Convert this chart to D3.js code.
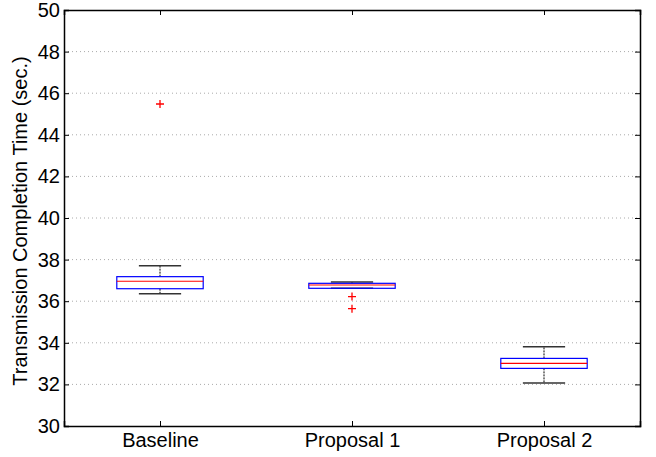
<!DOCTYPE html>
<html><head><meta charset="utf-8">
<script src="https://cdn.jsdelivr.net/npm/d3@7"></script>
<style>body{margin:0;background:#fff}svg{display:block}</style>
</head><body>
<script>
const categories = ["Baseline", "Proposal 1", "Proposal 2"];
const medians = [36.96, 36.78, 33.01];
const q1 = [36.60, 36.62, 32.77];
const q3 = [37.18, 36.86, 33.25];
const whiskerLow = [36.36, 36.62, 32.07];
const whiskerHigh = [37.71, 36.92, 33.81];
const outliers = [[45.48], [36.22, 35.64], []];
const yTicks = [30, 32, 34, 36, 38, 40, 42, 44, 46, 48, 50];

const W = 656, H = 457;
const m = {l: 64, r: 16, t: 10, b: 31};
const svg = d3.select("body").append("svg").attr("width", W).attr("height", H);
const x = d3.scaleLinear().domain([0.5, 3.5]).range([m.l, W - m.r]);
const y = d3.scaleLinear().domain([30, 50]).range([H - m.b, m.t]);
const font = "Liberation Sans, Arial, Helvetica, sans-serif";

// gridlines
svg.append("g").selectAll("line").data(yTicks.filter(t => t > 30 && t < 50)).join("line")
  .attr("x1", m.l).attr("x2", W - m.r).attr("y1", d => y(d)).attr("y2", d => y(d))
  .attr("stroke", "#aaa").attr("stroke-width", 1).attr("stroke-dasharray", "1,3");

// axes
const tickLen = 5;
const yAxisL = d3.axisLeft(y).tickValues(yTicks).tickSize(-tickLen).tickPadding(4);
const gL = svg.append("g").attr("transform", `translate(${m.l},0)`).call(yAxisL);
const yAxisR = d3.axisRight(y).tickValues(yTicks).tickSize(-tickLen).tickFormat("");
const gR = svg.append("g").attr("transform", `translate(${W - m.r},0)`).call(yAxisR);
const xAxisB = d3.axisBottom(x).tickValues([1, 2, 3]).tickFormat((d, i) => categories[i]).tickSize(-tickLen).tickPadding(7);
const gB = svg.append("g").attr("transform", `translate(0,${H - m.b})`).call(xAxisB);
const xAxisT = d3.axisTop(x).tickValues([1, 2, 3]).tickFormat("").tickSize(-tickLen);
const gT = svg.append("g").attr("transform", `translate(0,${m.t})`).call(xAxisT);
[gL, gR, gB, gT].forEach(g => {
  g.select(".domain").attr("stroke", "#000").attr("stroke-width", 1.5);
  g.selectAll(".tick line").attr("stroke", "#000");
  g.selectAll("text").attr("font-family", font).attr("font-size", 20).attr("fill", "#000");
});

// y label
svg.append("text").attr("transform", `translate(27,221) rotate(-90)`)
  .attr("text-anchor", "middle").attr("font-family", font).attr("font-size", 20)
  .text("Transmission Completion Time (sec.)");

// boxes
const boxHalf = 0.225 * (x(2) - x(1));
const capHalf = 0.11 * (x(2) - x(1));
const g = svg.append("g");
categories.forEach((c, i) => {
  const cx = x(i + 1);
  g.append("line").attr("x1", cx).attr("x2", cx).attr("y1", y(q3[i])).attr("y2", y(whiskerHigh[i]))
    .attr("stroke", "#000").attr("stroke-dasharray", "2,1");
  g.append("line").attr("x1", cx).attr("x2", cx).attr("y1", y(q1[i])).attr("y2", y(whiskerLow[i]))
    .attr("stroke", "#000").attr("stroke-dasharray", "2,1");
  [whiskerHigh[i], whiskerLow[i]].forEach(v => {
    g.append("line").attr("x1", cx - capHalf).attr("x2", cx + capHalf).attr("y1", y(v)).attr("y2", y(v))
      .attr("stroke", "#333").attr("stroke-width", 1.5);
  });
  g.append("rect").attr("x", cx - boxHalf).attr("width", 2 * boxHalf)
    .attr("y", y(q3[i])).attr("height", y(q1[i]) - y(q3[i]))
    .attr("fill", "none").attr("stroke", "#00f").attr("stroke-width", 1.2);
  g.append("line").attr("x1", cx - boxHalf).attr("x2", cx + boxHalf).attr("y1", y(medians[i])).attr("y2", y(medians[i]))
    .attr("stroke", "#f00").attr("stroke-width", 1.2);
  outliers[i].forEach(v => {
    g.append("path").attr("d", `M${cx - 4},${y(v)}h8M${cx},${y(v) - 4}v8`)
      .attr("stroke", "#f00").attr("stroke-width", 1.3);
  });
});
</script>
</body></html>
